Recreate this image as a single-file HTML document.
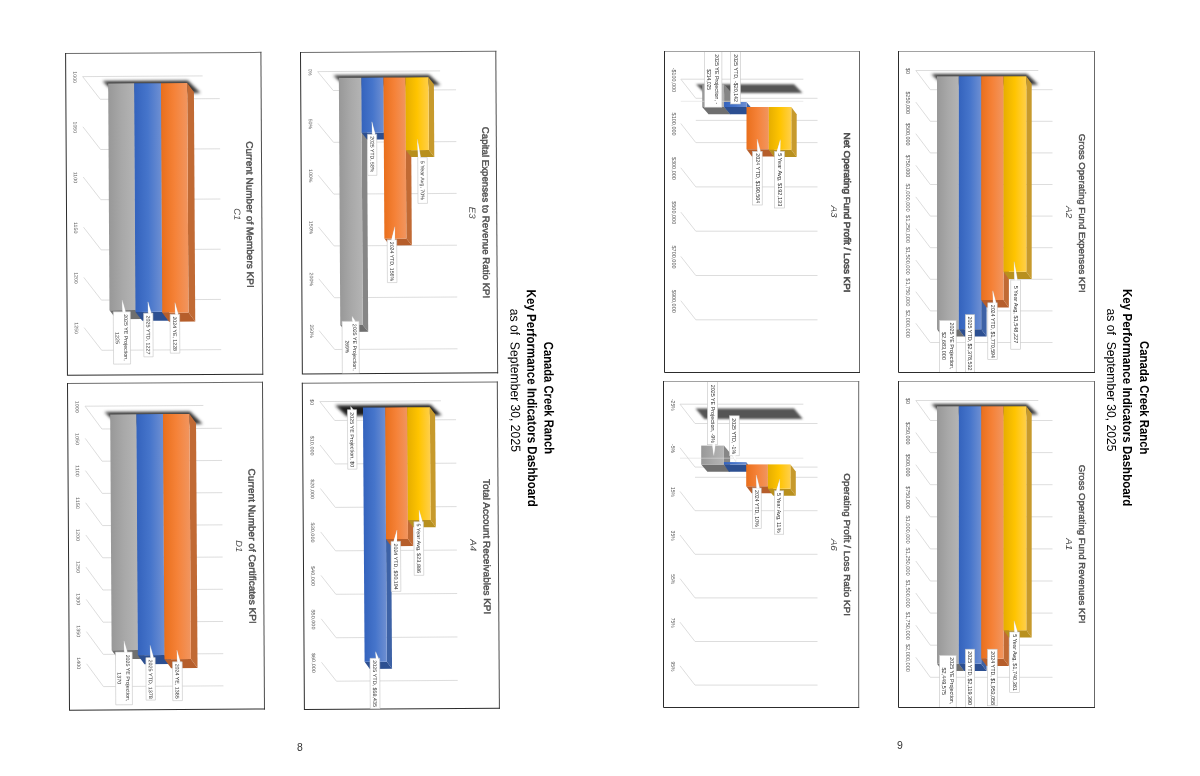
<!DOCTYPE html>
<html><head><meta charset="utf-8"><title>Canada Creek Ranch - Key Performance Indicators Dashboard</title>
<style>
html,body{margin:0;padding:0;background:#fff;}
body{width:1200px;height:776px;overflow:hidden;font-family:'Liberation Sans', sans-serif;}
svg{display:block;font-family:'Liberation Sans', sans-serif;}
</style></head><body>
<svg width="1200" height="776" viewBox="0 0 1200 776">
<defs>
<linearGradient id="gGray" x1="0" x2="1" y1="0" y2="0"><stop offset="0" stop-color="#989898"/><stop offset="0.5" stop-color="#a8a8a8"/><stop offset="1" stop-color="#b4b4b4"/></linearGradient>
<linearGradient id="gBlue" x1="0" x2="1" y1="0" y2="0"><stop offset="0" stop-color="#3463bd"/><stop offset="0.5" stop-color="#4675cb"/><stop offset="1" stop-color="#6e8fd2"/></linearGradient>
<linearGradient id="gOrange" x1="0" x2="1" y1="0" y2="0"><stop offset="0" stop-color="#e96f1c"/><stop offset="0.5" stop-color="#f58238"/><stop offset="1" stop-color="#f1955f"/></linearGradient>
<linearGradient id="gYellow" x1="0" x2="1" y1="0" y2="0"><stop offset="0" stop-color="#e6ae00"/><stop offset="0.5" stop-color="#ffc400"/><stop offset="1" stop-color="#ffcf4a"/></linearGradient>
<filter id="blur" x="-20%" y="-50%" width="140%" height="200%"><feGaussianBlur stdDeviation="1.4"/></filter>
<filter id="blur2" x="-20%" y="-50%" width="140%" height="200%"><feGaussianBlur stdDeviation="0.8"/></filter>
</defs>
<rect width="1200" height="776" fill="#fff"/>
<g transform="rotate(-0.33 65.8 53.5)">
<g>
<path d="M65.1 53.5 H261.4" stroke="#6e6e6e" stroke-width="1" fill="none"/>
<path d="M260.9 53 V375.8" stroke="#4c4c4c" stroke-width="1" fill="none"/>
<path d="M65.6 53 V375.3 H261.4" stroke="#2c2c2c" stroke-width="1" fill="none"/>
<clipPath id="cpC1"><rect x="66.1" y="54" width="194.3" height="320.8"/></clipPath>
<g clip-path="url(#cpC1)">
<path d="M82.5 76.7 L202.5 76.7 M82.5 76.7 L100 99.5 L219.5 99.5 M82.5 126.9 L100 149.7 L219.5 149.7 M82.5 177.1 L100 199.9 L219.5 199.9 M82.5 227.3 L100 250.1 L219.5 250.1 M82.5 277.5 L100 300.3 L219.5 300.3 M82.5 327.7 L100 350.5 L219.5 350.5" fill="none" stroke="#d4d4d4" stroke-width="0.8"/>
<polygon points="102.4,81.3 187.6,81.3 200.3,93.7 115.1,93.7" fill="#363636" filter="url(#blur)"/>
<polygon points="134,83.7 140.7,92.7 140.7,319.5 134,310.5" fill="#868686"/>
<polygon points="108,310.5 134,310.5 140.7,319.5 114.7,319.5" fill="#6f6f6f"/>
<rect x="108" y="83.7" width="26" height="226.8" fill="url(#gGray)"/>
<polygon points="160.8,83.7 167.5,92.7 167.5,321.3 160.8,312.3" fill="#3d62a6"/>
<polygon points="134,312.3 160.8,312.3 167.5,321.3 140.7,321.3" fill="#2c4f91"/>
<rect x="134" y="83.7" width="26.8" height="228.6" fill="url(#gBlue)"/>
<polygon points="187,83.7 193.7,92.7 193.7,322.3 187,313.3" fill="#c16a34"/>
<polygon points="160.8,313.3 187,313.3 193.7,322.3 167.5,322.3" fill="#b65e2b"/>
<rect x="160.8" y="83.7" width="26.2" height="229.6" fill="url(#gOrange)"/>
<polygon points="121.1,312.1 120.8,300.4 124.1,312.1" fill="#fff" stroke="#cfcfcf" stroke-width="0.4"/>
<rect x="111.8" y="312.1" width="17" height="52.3" fill="#fff" stroke="#c4c4c4" stroke-width="0.6"/>
<polygon points="121.3,312.7 120.8,301.2 123.9,312.7" fill="#fff"/>
<text transform="translate(122.6 314.5) rotate(90)" font-size="5.2" font-weight="normal" font-style="normal" fill="#303030" text-anchor="start" textLength="46.5" lengthAdjust="spacingAndGlyphs">2025 YE Projection,</text>
<text transform="translate(114 332.3) rotate(90)" font-size="5.2" font-weight="normal" font-style="normal" fill="#303030" text-anchor="start" textLength="12" lengthAdjust="spacingAndGlyphs">1225</text>
<polygon points="146.8,313.6 146.5,302.3 149.8,313.6" fill="#fff" stroke="#cfcfcf" stroke-width="0.4"/>
<rect x="142.1" y="313.6" width="9.3" height="43.7" fill="#fff" stroke="#c4c4c4" stroke-width="0.6"/>
<polygon points="147,314.2 146.5,303.1 149.6,314.2" fill="#fff"/>
<text transform="translate(144.9 316) rotate(90)" font-size="5.2" font-weight="normal" font-style="normal" fill="#303030" text-anchor="start" textLength="39" lengthAdjust="spacingAndGlyphs">2025 YTD, 1227</text>
<polygon points="173.8,314.8 173.5,303.3 176.8,314.8" fill="#fff" stroke="#cfcfcf" stroke-width="0.4"/>
<rect x="168.6" y="314.8" width="9.5" height="39" fill="#fff" stroke="#c4c4c4" stroke-width="0.6"/>
<polygon points="174,315.4 173.5,304.1 176.6,315.4" fill="#fff"/>
<text transform="translate(171.5 317) rotate(90)" font-size="5.2" font-weight="normal" font-style="normal" fill="#303030" text-anchor="start" textLength="34.6" lengthAdjust="spacingAndGlyphs">2024 YE, 1228</text>
</g>
<text transform="translate(73.1 77.2) rotate(90)" font-size="5" font-weight="normal" font-style="normal" fill="#5c5c5c" text-anchor="middle" textLength="11.6" lengthAdjust="spacingAndGlyphs">1000</text>
<text transform="translate(73.1 127.4) rotate(90)" font-size="5" font-weight="normal" font-style="normal" fill="#5c5c5c" text-anchor="middle" textLength="11.6" lengthAdjust="spacingAndGlyphs">1050</text>
<text transform="translate(73.1 177.6) rotate(90)" font-size="5" font-weight="normal" font-style="normal" fill="#5c5c5c" text-anchor="middle" textLength="11.6" lengthAdjust="spacingAndGlyphs">1100</text>
<text transform="translate(73.1 227.8) rotate(90)" font-size="5" font-weight="normal" font-style="normal" fill="#5c5c5c" text-anchor="middle" textLength="11.6" lengthAdjust="spacingAndGlyphs">1150</text>
<text transform="translate(73.1 278) rotate(90)" font-size="5" font-weight="normal" font-style="normal" fill="#5c5c5c" text-anchor="middle" textLength="11.6" lengthAdjust="spacingAndGlyphs">1200</text>
<text transform="translate(73.1 328.2) rotate(90)" font-size="5" font-weight="normal" font-style="normal" fill="#5c5c5c" text-anchor="middle" textLength="11.6" lengthAdjust="spacingAndGlyphs">1250</text>
<text transform="translate(245.8 215.5) rotate(90)" font-size="9.5" font-weight="normal" font-style="normal" fill="#505050" stroke="#505050" stroke-width="0.45" text-anchor="middle" textLength="146.5" lengthAdjust="spacingAndGlyphs">Current Number of Members KPI</text>
<text transform="translate(233.3 215.3) rotate(90)" font-size="8.9" font-weight="normal" font-style="italic" fill="#4a4a4a" text-anchor="middle" textLength="12" lengthAdjust="spacingAndGlyphs">C1</text>
</g>
</g>
<g transform="rotate(-0.35 68 383.5)">
<g>
<path d="M67 383.5 H263" stroke="#6e6e6e" stroke-width="1" fill="none"/>
<path d="M262.5 383 V710.7" stroke="#4c4c4c" stroke-width="1" fill="none"/>
<path d="M67.5 383 V710.2 H263" stroke="#2c2c2c" stroke-width="1" fill="none"/>
<clipPath id="cpD1"><rect x="68" y="384" width="194" height="325.7"/></clipPath>
<g clip-path="url(#cpD1)">
<path d="M84.9 406.3 L203.2 406.3 M84.9 406.3 L101.6 429.2 L221.6 429.2 M84.9 438.5 L101.6 461.4 L221.6 461.4 M84.9 470.7 L101.6 493.6 L221.6 493.6 M84.9 502.9 L101.6 525.8 L221.6 525.8 M84.9 535.1 L101.6 558 L221.6 558 M84.9 567.3 L101.6 590.2 L221.6 590.2 M84.9 599.5 L101.6 622.4 L221.6 622.4 M84.9 631.7 L101.6 654.6 L221.6 654.6 M84.9 663.9 L101.6 686.8 L221.6 686.8" fill="none" stroke="#d4d4d4" stroke-width="0.8"/>
<polygon points="104.4,412.3 189.8,412.3 202.4,424.7 117,424.7" fill="#363636" filter="url(#blur)"/>
<polygon points="136.2,414.7 142.8,423.7 142.8,659.4 136.2,650.4" fill="#868686"/>
<polygon points="110,650.4 136.2,650.4 142.8,659.4 116.6,659.4" fill="#6f6f6f"/>
<rect x="110" y="414.7" width="26.2" height="235.7" fill="url(#gGray)"/>
<polygon points="162.8,414.7 169.4,423.7 169.4,664.6 162.8,655.6" fill="#3d62a6"/>
<polygon points="136.2,655.6 162.8,655.6 169.4,664.6 142.8,664.6" fill="#2c4f91"/>
<rect x="136.2" y="414.7" width="26.6" height="240.9" fill="url(#gBlue)"/>
<polygon points="189.2,414.7 195.8,423.7 195.8,668.8 189.2,659.8" fill="#c16a34"/>
<polygon points="162.8,659.8 189.2,659.8 195.8,668.8 169.4,668.8" fill="#b65e2b"/>
<rect x="162.8" y="414.7" width="26.4" height="245.1" fill="url(#gOrange)"/>
<polygon points="122.7,652.4 122.4,641.2 125.7,652.4" fill="#fff" stroke="#cfcfcf" stroke-width="0.4"/>
<rect x="113.8" y="652.4" width="16.7" height="52.7" fill="#fff" stroke="#c4c4c4" stroke-width="0.6"/>
<polygon points="122.9,653 122.4,642 125.5,653" fill="#fff"/>
<text transform="translate(124.4 655) rotate(90)" font-size="5.2" font-weight="normal" font-style="normal" fill="#303030" text-anchor="start" textLength="46.7" lengthAdjust="spacingAndGlyphs">2025 YE Projection,</text>
<text transform="translate(115.8 672.6) rotate(90)" font-size="5.2" font-weight="normal" font-style="normal" fill="#303030" text-anchor="start" textLength="12" lengthAdjust="spacingAndGlyphs">1370</text>
<polygon points="148.9,658.1 148.6,645.9 151.9,658.1" fill="#fff" stroke="#cfcfcf" stroke-width="0.4"/>
<rect x="144.2" y="658.1" width="9.3" height="42.5" fill="#fff" stroke="#c4c4c4" stroke-width="0.6"/>
<polygon points="149.1,658.7 148.6,646.7 151.7,658.7" fill="#fff"/>
<text transform="translate(147 660) rotate(90)" font-size="5.2" font-weight="normal" font-style="normal" fill="#303030" text-anchor="start" textLength="39.3" lengthAdjust="spacingAndGlyphs">2025 YTD, 1378</text>
<polygon points="175.6,662.5 175.3,650.8 178.6,662.5" fill="#fff" stroke="#cfcfcf" stroke-width="0.4"/>
<rect x="170.8" y="662.5" width="9.7" height="38.8" fill="#fff" stroke="#c4c4c4" stroke-width="0.6"/>
<polygon points="175.8,663.1 175.3,651.6 178.4,663.1" fill="#fff"/>
<text transform="translate(173.7 664.3) rotate(90)" font-size="5.2" font-weight="normal" font-style="normal" fill="#303030" text-anchor="start" textLength="35" lengthAdjust="spacingAndGlyphs">2024 YE, 1385</text>
</g>
<text transform="translate(75.3 406.9) rotate(90)" font-size="5" font-weight="normal" font-style="normal" fill="#5c5c5c" text-anchor="middle" textLength="12" lengthAdjust="spacingAndGlyphs">1000</text>
<text transform="translate(75.3 438.95) rotate(90)" font-size="5" font-weight="normal" font-style="normal" fill="#5c5c5c" text-anchor="middle" textLength="12" lengthAdjust="spacingAndGlyphs">1050</text>
<text transform="translate(75.3 471) rotate(90)" font-size="5" font-weight="normal" font-style="normal" fill="#5c5c5c" text-anchor="middle" textLength="12" lengthAdjust="spacingAndGlyphs">1100</text>
<text transform="translate(75.3 503.05) rotate(90)" font-size="5" font-weight="normal" font-style="normal" fill="#5c5c5c" text-anchor="middle" textLength="12" lengthAdjust="spacingAndGlyphs">1150</text>
<text transform="translate(75.3 535.1) rotate(90)" font-size="5" font-weight="normal" font-style="normal" fill="#5c5c5c" text-anchor="middle" textLength="12" lengthAdjust="spacingAndGlyphs">1200</text>
<text transform="translate(75.3 567.15) rotate(90)" font-size="5" font-weight="normal" font-style="normal" fill="#5c5c5c" text-anchor="middle" textLength="12" lengthAdjust="spacingAndGlyphs">1250</text>
<text transform="translate(75.3 599.2) rotate(90)" font-size="5" font-weight="normal" font-style="normal" fill="#5c5c5c" text-anchor="middle" textLength="12" lengthAdjust="spacingAndGlyphs">1300</text>
<text transform="translate(75.3 631.25) rotate(90)" font-size="5" font-weight="normal" font-style="normal" fill="#5c5c5c" text-anchor="middle" textLength="12" lengthAdjust="spacingAndGlyphs">1350</text>
<text transform="translate(75.3 663.3) rotate(90)" font-size="5" font-weight="normal" font-style="normal" fill="#5c5c5c" text-anchor="middle" textLength="12" lengthAdjust="spacingAndGlyphs">1400</text>
<text transform="translate(248 547.2) rotate(90)" font-size="9.5" font-weight="normal" font-style="normal" fill="#505050" stroke="#505050" stroke-width="0.45" text-anchor="middle" textLength="155.2" lengthAdjust="spacingAndGlyphs">Current Number of Certificates KPI</text>
<text transform="translate(235 547.3) rotate(90)" font-size="8.9" font-weight="normal" font-style="italic" fill="#4a4a4a" text-anchor="middle" textLength="12" lengthAdjust="spacingAndGlyphs">D1</text>
</g>
</g>
<g transform="rotate(-0.33 300.9 52.4)">
<g>
<path d="M300 52.5 H496.3" stroke="#6e6e6e" stroke-width="1" fill="none"/>
<path d="M495.8 52 V374.5" stroke="#4c4c4c" stroke-width="1" fill="none"/>
<path d="M300.5 52 V374 H496.3" stroke="#2c2c2c" stroke-width="1" fill="none"/>
<clipPath id="cpE3"><rect x="301" y="53" width="194.3" height="320.5"/></clipPath>
<g clip-path="url(#cpE3)">
<path d="M317.5 71.7 L440 71.7 M317.5 71.7 L333 90.7 L455.8 90.7 M317.5 123.5 L333 142.5 L455.8 142.5 M317.5 175.3 L333 194.3 L455.8 194.3 M317.5 227.1 L333 246.1 L455.8 246.1 M317.5 278.9 L333 297.9 L455.8 297.9 M317.5 330.7 L333 349.7 L455.8 349.7" fill="none" stroke="#d4d4d4" stroke-width="0.8"/>
<polygon points="333.1,75.6 428.9,75.6 440.3,85.9 344.5,85.9" fill="#363636" filter="url(#blur)"/>
<polygon points="361.2,78 366.6,84.9 366.6,332.2 361.2,325.3" fill="#868686"/>
<polygon points="338.7,325.3 361.2,325.3 366.6,332.2 344.1,332.2" fill="#6f6f6f"/>
<rect x="338.7" y="78" width="22.5" height="247.3" fill="url(#gGray)"/>
<polygon points="383.3,78 388.7,84.9 388.7,139.9 383.3,133" fill="#3d62a6"/>
<polygon points="361.2,133 383.3,133 388.7,139.9 366.6,139.9" fill="#2c4f91"/>
<rect x="361.2" y="78" width="22.1" height="55" fill="url(#gBlue)"/>
<polygon points="405.3,78 410.7,84.9 410.7,245.9 405.3,239" fill="#c16a34"/>
<polygon points="383.3,239 405.3,239 410.7,245.9 388.7,245.9" fill="#b65e2b"/>
<rect x="383.3" y="78" width="22" height="161" fill="url(#gOrange)"/>
<polygon points="428.3,78 433.7,84.9 433.7,157.7 428.3,150.8" fill="#c79a2c"/>
<polygon points="405.3,150.8 428.3,150.8 433.7,157.7 410.7,157.7" fill="#b8901e"/>
<rect x="405.3" y="78" width="23" height="72.8" fill="url(#gYellow)"/>
<polygon points="371.8,134.6 371.5,122.2 374.8,134.6" fill="#fff" stroke="#cfcfcf" stroke-width="0.4"/>
<rect x="367" y="134.6" width="9.2" height="41.2" fill="#fff" stroke="#c4c4c4" stroke-width="0.6"/>
<polygon points="372,135.2 371.5,123 374.6,135.2" fill="#fff"/>
<text transform="translate(369.9 136.7) rotate(90)" font-size="5.2" font-weight="normal" font-style="normal" fill="#303030" text-anchor="start" textLength="36" lengthAdjust="spacingAndGlyphs">2025 YTD, 58%</text>
<polygon points="417.5,158.3 416.9,140 420.1,158.3" fill="#fff" stroke="#cfcfcf" stroke-width="0.4"/>
<rect x="417.1" y="158.3" width="9.5" height="45.8" fill="#fff" stroke="#c4c4c4" stroke-width="0.6"/>
<polygon points="417.7,158.9 416.9,140.8 419.9,158.9" fill="#fff"/>
<text transform="translate(420 161.5) rotate(90)" font-size="5.2" font-weight="normal" font-style="normal" fill="#303030" text-anchor="start" textLength="39.3" lengthAdjust="spacingAndGlyphs">5 Year Avg, 70%</text>
<polygon points="393.5,240.3 393.8,227.3 390.5,240.3" fill="#fff" stroke="#cfcfcf" stroke-width="0.4"/>
<rect x="386.1" y="240.3" width="9.5" height="42.8" fill="#fff" stroke="#c4c4c4" stroke-width="0.6"/>
<polygon points="393.7,240.9 393.8,228.1 390.3,240.9" fill="#fff"/>
<text transform="translate(389 242.3) rotate(90)" font-size="5.2" font-weight="normal" font-style="normal" fill="#303030" text-anchor="start" textLength="39.3" lengthAdjust="spacingAndGlyphs">2024 YTD, 156%</text>
<polygon points="350.9,321.6 350.6,316.6 353.9,321.6" fill="#fff" stroke="#cfcfcf" stroke-width="0.4"/>
<rect x="340.5" y="321.6" width="17" height="58.4" fill="#fff" stroke="#c4c4c4" stroke-width="0.6"/>
<polygon points="351.1,322.2 350.6,317.4 353.7,322.2" fill="#fff"/>
<text transform="translate(351.3 324) rotate(90)" font-size="5.2" font-weight="normal" font-style="normal" fill="#303030" text-anchor="start" textLength="47" lengthAdjust="spacingAndGlyphs">2025 YE Projection,</text>
<text transform="translate(343.9 340.8) rotate(90)" font-size="5.2" font-weight="normal" font-style="normal" fill="#303030" text-anchor="start" textLength="12.5" lengthAdjust="spacingAndGlyphs">269%</text>
</g>
<text transform="translate(308.4 72.2) rotate(90)" font-size="5" font-weight="normal" font-style="normal" fill="#5c5c5c" text-anchor="middle" textLength="6.5" lengthAdjust="spacingAndGlyphs">0%</text>
<text transform="translate(308.4 124) rotate(90)" font-size="5" font-weight="normal" font-style="normal" fill="#5c5c5c" text-anchor="middle" textLength="10.5" lengthAdjust="spacingAndGlyphs">50%</text>
<text transform="translate(308.4 175.8) rotate(90)" font-size="5" font-weight="normal" font-style="normal" fill="#5c5c5c" text-anchor="middle" textLength="13.5" lengthAdjust="spacingAndGlyphs">100%</text>
<text transform="translate(308.4 227.6) rotate(90)" font-size="5" font-weight="normal" font-style="normal" fill="#5c5c5c" text-anchor="middle" textLength="13.5" lengthAdjust="spacingAndGlyphs">150%</text>
<text transform="translate(308.4 279.4) rotate(90)" font-size="5" font-weight="normal" font-style="normal" fill="#5c5c5c" text-anchor="middle" textLength="13.5" lengthAdjust="spacingAndGlyphs">200%</text>
<text transform="translate(308.4 331.2) rotate(90)" font-size="5" font-weight="normal" font-style="normal" fill="#5c5c5c" text-anchor="middle" textLength="13.5" lengthAdjust="spacingAndGlyphs">250%</text>
<text transform="translate(481.7 213.6) rotate(90)" font-size="9.5" font-weight="normal" font-style="normal" fill="#505050" stroke="#505050" stroke-width="0.45" text-anchor="middle" textLength="171.4" lengthAdjust="spacingAndGlyphs">Capital Expenses to Revenue Ratio KPI</text>
<text transform="translate(468.4 213.8) rotate(90)" font-size="8.9" font-weight="normal" font-style="italic" fill="#4a4a4a" text-anchor="middle" textLength="12" lengthAdjust="spacingAndGlyphs">E3</text>
</g>
</g>
<g transform="rotate(-0.37 302.6 382.6)">
<g>
<path d="M301.8 383.2 H497.8" stroke="#6e6e6e" stroke-width="1" fill="none"/>
<path d="M497.3 382.7 V710" stroke="#4c4c4c" stroke-width="1" fill="none"/>
<path d="M302.3 382.7 V709.5 H497.8" stroke="#2c2c2c" stroke-width="1" fill="none"/>
<clipPath id="cpA4"><rect x="302.8" y="383.7" width="194" height="325.3"/></clipPath>
<g clip-path="url(#cpA4)">
<path d="M319.7 401.7 L440.8 401.7 M319.7 401.7 L334.5 420.7 L455.8 420.7 M319.7 445.15 L334.5 464.15 L455.8 464.15 M319.7 488.6 L334.5 507.6 L455.8 507.6 M319.7 532.05 L334.5 551.05 L455.8 551.05 M319.7 575.5 L334.5 594.5 L455.8 594.5 M319.7 618.95 L334.5 637.95 L455.8 637.95 M319.7 662.4 L334.5 681.4 L455.8 681.4" fill="none" stroke="#d4d4d4" stroke-width="0.8"/>
<polygon points="335,405.6 430.3,405.6 441.5,416.2 346.2,416.2" fill="#1e1e1e" filter="url(#blur)"/>
<polygon points="385,408 390.2,415.2 390.2,669.4 385,662.2" fill="#3d62a6"/>
<polygon points="362.8,662.2 385,662.2 390.2,669.4 368,669.4" fill="#2c4f91"/>
<rect x="362.8" y="408" width="22.2" height="254.2" fill="url(#gBlue)"/>
<polygon points="407,408 412.2,415.2 412.2,546.8 407,539.6" fill="#c16a34"/>
<polygon points="385,539.6 407,539.6 412.2,546.8 390.2,546.8" fill="#b65e2b"/>
<rect x="385" y="408" width="22" height="131.6" fill="url(#gOrange)"/>
<polygon points="429.7,408 434.9,415.2 434.9,528 429.7,520.8" fill="#c79a2c"/>
<polygon points="407,520.8 429.7,520.8 434.9,528 412.2,528" fill="#b8901e"/>
<rect x="407" y="408" width="22.7" height="112.8" fill="url(#gYellow)"/>
<polygon points="350.8,410 350.5,406.8 353.3,410" fill="#fff" stroke="#cfcfcf" stroke-width="0.4"/>
<rect x="347.2" y="410" width="9.2" height="59.5" fill="#fff" stroke="#c4c4c4" stroke-width="0.6"/>
<polygon points="351,410.6 350.5,407.6 353.1,410.6" fill="#fff"/>
<text transform="translate(350 412.5) rotate(90)" font-size="5.2" font-weight="normal" font-style="normal" fill="#303030" text-anchor="start" textLength="55" lengthAdjust="spacingAndGlyphs">2025 YE Projection, $0</text>
<polygon points="418.6,522.5 418.3,510.8 421.6,522.5" fill="#fff" stroke="#cfcfcf" stroke-width="0.4"/>
<rect x="413" y="522.5" width="9.5" height="53.6" fill="#fff" stroke="#c4c4c4" stroke-width="0.6"/>
<polygon points="418.8,523.1 418.3,511.6 421.4,523.1" fill="#fff"/>
<text transform="translate(415.9 524.3) rotate(90)" font-size="5.2" font-weight="normal" font-style="normal" fill="#303030" text-anchor="start" textLength="49.6" lengthAdjust="spacingAndGlyphs">5 Year Avg, $23,886</text>
<polygon points="395.7,542 396,530.65 392.7,542" fill="#fff" stroke="#cfcfcf" stroke-width="0.4"/>
<rect x="390" y="542" width="9.5" height="50" fill="#fff" stroke="#c4c4c4" stroke-width="0.6"/>
<polygon points="395.9,542.6 396,531.45 392.5,542.6" fill="#fff"/>
<text transform="translate(392.9 544) rotate(90)" font-size="5.2" font-weight="normal" font-style="normal" fill="#303030" text-anchor="start" textLength="46.4" lengthAdjust="spacingAndGlyphs">2024 YTD, $30,194</text>
<polygon points="374.2,658.8 373.9,652.2 376.7,658.8" fill="#fff" stroke="#cfcfcf" stroke-width="0.4"/>
<rect x="368.2" y="658.8" width="9.7" height="56.2" fill="#fff" stroke="#c4c4c4" stroke-width="0.6"/>
<polygon points="374.4,659.4 373.9,653 376.5,659.4" fill="#fff"/>
<text transform="translate(371.1 660.8) rotate(90)" font-size="5.2" font-weight="normal" font-style="normal" fill="#303030" text-anchor="start" textLength="46.7" lengthAdjust="spacingAndGlyphs">2025 YTD, $58,435</text>
</g>
<text transform="translate(310.1 402.3) rotate(90)" font-size="5" font-weight="normal" font-style="normal" fill="#5c5c5c" text-anchor="middle" textLength="6" lengthAdjust="spacingAndGlyphs">$0</text>
<text transform="translate(310.1 445.75) rotate(90)" font-size="5" font-weight="normal" font-style="normal" fill="#5c5c5c" text-anchor="middle" textLength="20" lengthAdjust="spacingAndGlyphs">$10,000</text>
<text transform="translate(310.1 489.2) rotate(90)" font-size="5" font-weight="normal" font-style="normal" fill="#5c5c5c" text-anchor="middle" textLength="20" lengthAdjust="spacingAndGlyphs">$20,000</text>
<text transform="translate(310.1 532.65) rotate(90)" font-size="5" font-weight="normal" font-style="normal" fill="#5c5c5c" text-anchor="middle" textLength="20" lengthAdjust="spacingAndGlyphs">$30,000</text>
<text transform="translate(310.1 576.1) rotate(90)" font-size="5" font-weight="normal" font-style="normal" fill="#5c5c5c" text-anchor="middle" textLength="20" lengthAdjust="spacingAndGlyphs">$40,000</text>
<text transform="translate(310.1 619.55) rotate(90)" font-size="5" font-weight="normal" font-style="normal" fill="#5c5c5c" text-anchor="middle" textLength="20" lengthAdjust="spacingAndGlyphs">$50,000</text>
<text transform="translate(310.1 663) rotate(90)" font-size="5" font-weight="normal" font-style="normal" fill="#5c5c5c" text-anchor="middle" textLength="20" lengthAdjust="spacingAndGlyphs">$60,000</text>
<text transform="translate(482.5 547.8) rotate(90)" font-size="9.5" font-weight="normal" font-style="normal" fill="#505050" stroke="#505050" stroke-width="0.45" text-anchor="middle" textLength="135.3" lengthAdjust="spacingAndGlyphs">Total Account Receivables KPI</text>
<text transform="translate(469.2 546.3) rotate(90)" font-size="8.9" font-weight="normal" font-style="italic" fill="#4a4a4a" text-anchor="middle" textLength="12" lengthAdjust="spacingAndGlyphs">A4</text>
</g>
</g>
<g>
<path d="M664 51.5 H860" stroke="#a2a2a2" stroke-width="1" fill="none"/>
<path d="M859.5 51 V373" stroke="#686868" stroke-width="1" fill="none"/>
<path d="M664.5 51 V372.5 H860" stroke="#2c2c2c" stroke-width="1" fill="none"/>
<clipPath id="cpA3"><rect x="665" y="52" width="194" height="320"/></clipPath>
<g clip-path="url(#cpA3)">
<path d="M680.8 79.2 L803.3 79.2 M695.8 120.4 L817.5 120.4 M680.8 79.2 L695.8 98.3 L817.5 98.3 M680.8 123.5 L695.8 142.6 L817.5 142.6 M680.8 167.8 L695.8 186.9 L817.5 186.9 M680.8 212.1 L695.8 231.2 L817.5 231.2 M680.8 256.4 L695.8 275.5 L817.5 275.5 M680.8 300.7 L695.8 319.8 L817.5 319.8" fill="none" stroke="#d4d4d4" stroke-width="0.8"/>
<polygon points="696,84.2 794,84.2 802.5,93 704.5,93" fill="#555555" filter="url(#blur2)"/>
<polygon points="724.1,84.3 730.4,91.6 730.4,114.3 724.1,107" fill="#868686"/>
<polygon points="702.2,107 724.1,107 730.4,114.3 708.5,114.3" fill="#6f6f6f"/>
<rect x="702.2" y="84.3" width="21.9" height="22.7" fill="url(#gGray)"/>
<polygon points="746.5,102 752.5,109.3 752.5,114.3 746.5,107" fill="#3d62a6"/>
<polygon points="724.1,107 746.5,107 752.5,114.3 730.1,114.3" fill="#2c4f91"/>
<rect x="724.1" y="102" width="22.4" height="5" fill="url(#gBlue)"/>
<polygon points="768.8,107 774.2,114.2 774.2,156.4 768.8,149.2" fill="#c16a34"/>
<polygon points="746.5,149.2 768.8,149.2 774.2,156.4 751.9,156.4" fill="#b65e2b"/>
<rect x="746.5" y="107" width="22.3" height="42.2" fill="url(#gOrange)"/>
<polygon points="791.3,107 796.7,114.2 796.7,157 791.3,149.8" fill="#c79a2c"/>
<polygon points="768.8,149.8 791.3,149.8 796.7,157 774.2,157" fill="#b8901e"/>
<rect x="768.8" y="107" width="22.5" height="42.8" fill="url(#gYellow)"/>
<path d="M680.8 101.3 L803.3 101.3" fill="none" stroke="#dcdcdc" stroke-width="0.7" opacity="0.85"/>
<rect x="704.6" y="40" width="17.3" height="67.2" fill="#fff" stroke="#c4c4c4" stroke-width="0.6"/>
<text transform="translate(714.7 54.2) rotate(90)" font-size="5.2" font-weight="normal" font-style="normal" fill="#303030" text-anchor="start" textLength="50" lengthAdjust="spacingAndGlyphs">2025 YE Projection, -</text>
<text transform="translate(706.7 69.2) rotate(90)" font-size="5.2" font-weight="normal" font-style="normal" fill="#303030" text-anchor="start" textLength="20.8" lengthAdjust="spacingAndGlyphs">$214,025</text>
<rect x="730.6" y="40" width="9.8" height="64" fill="#fff" stroke="#c4c4c4" stroke-width="0.6"/>
<text transform="translate(734 54.2) rotate(90)" font-size="5.2" font-weight="normal" font-style="normal" fill="#303030" text-anchor="start" textLength="47.8" lengthAdjust="spacingAndGlyphs">2025 YTD, -$20,142</text>
<polygon points="757.5,151.3 757.2,139.2 760.5,151.3" fill="#fff" stroke="#cfcfcf" stroke-width="0.4"/>
<rect x="752.5" y="151.3" width="9.7" height="53.7" fill="#fff" stroke="#c4c4c4" stroke-width="0.6"/>
<polygon points="757.7,151.9 757.2,140 760.3,151.9" fill="#fff"/>
<text transform="translate(755.5 153.3) rotate(90)" font-size="5.2" font-weight="normal" font-style="normal" fill="#303030" text-anchor="start" textLength="50" lengthAdjust="spacingAndGlyphs">2024 YTD, $190,504</text>
<polygon points="780,151.3 780.3,139.7 777,151.3" fill="#fff" stroke="#cfcfcf" stroke-width="0.4"/>
<rect x="774.5" y="151.3" width="10" height="56.7" fill="#fff" stroke="#c4c4c4" stroke-width="0.6"/>
<polygon points="780.2,151.9 780.3,140.5 776.8,151.9" fill="#fff"/>
<text transform="translate(777.7 153.3) rotate(90)" font-size="5.2" font-weight="normal" font-style="normal" fill="#303030" text-anchor="start" textLength="53" lengthAdjust="spacingAndGlyphs">5 Year Avg, $192,133</text>
</g>
<text transform="translate(671.8 79.8) rotate(90)" font-size="5" font-weight="normal" font-style="normal" fill="#5c5c5c" text-anchor="middle" textLength="24.2" lengthAdjust="spacingAndGlyphs">-$100,000</text>
<text transform="translate(671.8 124.1) rotate(90)" font-size="5" font-weight="normal" font-style="normal" fill="#5c5c5c" text-anchor="middle" textLength="23" lengthAdjust="spacingAndGlyphs">$100,000</text>
<text transform="translate(671.8 168.4) rotate(90)" font-size="5" font-weight="normal" font-style="normal" fill="#5c5c5c" text-anchor="middle" textLength="23" lengthAdjust="spacingAndGlyphs">$300,000</text>
<text transform="translate(671.8 212.7) rotate(90)" font-size="5" font-weight="normal" font-style="normal" fill="#5c5c5c" text-anchor="middle" textLength="23" lengthAdjust="spacingAndGlyphs">$500,000</text>
<text transform="translate(671.8 257) rotate(90)" font-size="5" font-weight="normal" font-style="normal" fill="#5c5c5c" text-anchor="middle" textLength="23" lengthAdjust="spacingAndGlyphs">$700,000</text>
<text transform="translate(671.8 301.3) rotate(90)" font-size="5" font-weight="normal" font-style="normal" fill="#5c5c5c" text-anchor="middle" textLength="23" lengthAdjust="spacingAndGlyphs">$900,000</text>
<text transform="translate(843.5 212.5) rotate(90)" font-size="9.5" font-weight="normal" font-style="normal" fill="#505050" stroke="#505050" stroke-width="0.62" text-anchor="middle" textLength="160" lengthAdjust="spacingAndGlyphs">Net Operating Fund Profit / Loss KPI</text>
<text transform="translate(831.2 211.5) rotate(90)" font-size="9.2" font-weight="normal" font-style="italic" fill="#4a4a4a" text-anchor="middle" textLength="12.2" lengthAdjust="spacingAndGlyphs">A3</text>
</g>
<g>
<path d="M663 381.5 H859.2" stroke="#a2a2a2" stroke-width="1" fill="none"/>
<path d="M858.7 381 V708" stroke="#686868" stroke-width="1" fill="none"/>
<path d="M663.5 381 V707.5 H859.2" stroke="#2c2c2c" stroke-width="1" fill="none"/>
<clipPath id="cpA6"><rect x="664" y="382" width="194.2" height="325"/></clipPath>
<g clip-path="url(#cpA6)">
<path d="M680 404.2 L803.3 404.2 M695 477.3 L817.5 477.3 M680 404.2 L695 423.5 L817.5 423.5 M680 447.8 L695 467.1 L817.5 467.1 M680 491.4 L695 510.7 L817.5 510.7 M680 535 L695 554.3 L817.5 554.3 M680 578.6 L695 597.9 L817.5 597.9 M680 622.2 L695 641.5 L817.5 641.5 M680 665.8 L695 685.1 L817.5 685.1" fill="none" stroke="#d4d4d4" stroke-width="0.8"/>
<polygon points="695.5,408.6 794,408.6 802.8,419 704.5,419" fill="#555555" filter="url(#blur2)"/>
<polygon points="723.9,445.6 730.1,452.9 730.1,471.7 723.9,464.4" fill="#868686"/>
<polygon points="701.2,464.4 723.9,464.4 730.1,471.7 707.4,471.7" fill="#6f6f6f"/>
<rect x="701.2" y="445.6" width="22.7" height="18.8" fill="url(#gGray)"/>
<polygon points="746.2,462.1 751.2,469.4 751.2,471.7 746.2,464.4" fill="#3d62a6"/>
<polygon points="723.9,464.4 746.2,464.4 751.2,471.7 728.9,471.7" fill="#2c4f91"/>
<rect x="723.9" y="462.1" width="22.3" height="2.3" fill="url(#gBlue)"/>
<polygon points="767.9,464.4 773.3,471.4 773.3,493.3 767.9,486.3" fill="#c16a34"/>
<polygon points="746.2,486.3 767.9,486.3 773.3,493.3 751.6,493.3" fill="#b65e2b"/>
<rect x="746.2" y="464.4" width="21.7" height="21.9" fill="url(#gOrange)"/>
<polygon points="790.4,464.4 795.8,471.4 795.8,495.7 790.4,488.7" fill="#c79a2c"/>
<polygon points="767.9,488.7 790.4,488.7 795.8,495.7 773.3,495.7" fill="#b8901e"/>
<rect x="767.9" y="464.4" width="22.5" height="24.3" fill="url(#gYellow)"/>
<path d="M680 458.2 L803.3 458.2" fill="none" stroke="#dcdcdc" stroke-width="0.7" opacity="0.85"/>
<polygon points="712.2,444.7 713.8,455.5 715.4,444.7" fill="#fff" stroke="#cfcfcf" stroke-width="0.4"/>
<rect x="707.5" y="370" width="10" height="74.7" fill="#fff" stroke="#c4c4c4" stroke-width="0.6"/>
<polygon points="712.4,444.1 713.8,454.7 715.2,444.1" fill="#fff"/>
<text transform="translate(710.6 384.7) rotate(90)" font-size="5.2" font-weight="normal" font-style="normal" fill="#303030" text-anchor="start" textLength="58.3" lengthAdjust="spacingAndGlyphs">2025 YE Projection, -9%</text>
<polygon points="735.5,455.8 735.8,461.7 732.5,455.8" fill="#fff" stroke="#cfcfcf" stroke-width="0.4"/>
<rect x="729.5" y="415.8" width="9.7" height="40" fill="#fff" stroke="#c4c4c4" stroke-width="0.6"/>
<polygon points="735.7,455.2 735.8,460.9 732.3,455.2" fill="#fff"/>
<text transform="translate(732.4 418.3) rotate(90)" font-size="5.2" font-weight="normal" font-style="normal" fill="#303030" text-anchor="start" textLength="35.9" lengthAdjust="spacingAndGlyphs">2025 YTD, -1%</text>
<polygon points="756.6,488 756.3,475 759.6,488" fill="#fff" stroke="#cfcfcf" stroke-width="0.4"/>
<rect x="752.5" y="488" width="8.7" height="40.3" fill="#fff" stroke="#c4c4c4" stroke-width="0.6"/>
<polygon points="756.8,488.6 756.3,475.8 759.4,488.6" fill="#fff"/>
<text transform="translate(755.1 490) rotate(90)" font-size="5.2" font-weight="normal" font-style="normal" fill="#303030" text-anchor="start" textLength="36.7" lengthAdjust="spacingAndGlyphs">2024 YTD, 10%</text>
<polygon points="779.4,490.8 779.7,479.2 776.4,490.8" fill="#fff" stroke="#cfcfcf" stroke-width="0.4"/>
<rect x="774.5" y="490.8" width="9.2" height="43.4" fill="#fff" stroke="#c4c4c4" stroke-width="0.6"/>
<polygon points="779.6,491.4 779.7,480 776.2,491.4" fill="#fff"/>
<text transform="translate(777.3 493) rotate(90)" font-size="5.2" font-weight="normal" font-style="normal" fill="#303030" text-anchor="start" textLength="39.5" lengthAdjust="spacingAndGlyphs">5 Year Avg, 11%</text>
</g>
<text transform="translate(671.3 404.8) rotate(90)" font-size="5" font-weight="normal" font-style="normal" fill="#5c5c5c" text-anchor="middle" textLength="11.7" lengthAdjust="spacingAndGlyphs">-25%</text>
<text transform="translate(671.3 448.4) rotate(90)" font-size="5" font-weight="normal" font-style="normal" fill="#5c5c5c" text-anchor="middle" textLength="8.8" lengthAdjust="spacingAndGlyphs">-5%</text>
<text transform="translate(671.3 492) rotate(90)" font-size="5" font-weight="normal" font-style="normal" fill="#5c5c5c" text-anchor="middle" textLength="10" lengthAdjust="spacingAndGlyphs">15%</text>
<text transform="translate(671.3 535.6) rotate(90)" font-size="5" font-weight="normal" font-style="normal" fill="#5c5c5c" text-anchor="middle" textLength="10" lengthAdjust="spacingAndGlyphs">35%</text>
<text transform="translate(671.3 579.2) rotate(90)" font-size="5" font-weight="normal" font-style="normal" fill="#5c5c5c" text-anchor="middle" textLength="10" lengthAdjust="spacingAndGlyphs">55%</text>
<text transform="translate(671.3 622.8) rotate(90)" font-size="5" font-weight="normal" font-style="normal" fill="#5c5c5c" text-anchor="middle" textLength="10" lengthAdjust="spacingAndGlyphs">75%</text>
<text transform="translate(671.3 666.4) rotate(90)" font-size="5" font-weight="normal" font-style="normal" fill="#5c5c5c" text-anchor="middle" textLength="10" lengthAdjust="spacingAndGlyphs">95%</text>
<text transform="translate(843.6 544.6) rotate(90)" font-size="9.5" font-weight="normal" font-style="normal" fill="#505050" stroke="#505050" stroke-width="0.45" text-anchor="middle" textLength="142.6" lengthAdjust="spacingAndGlyphs">Operating Profit / Loss Ratio KPI</text>
<text transform="translate(830.6 544.8) rotate(90)" font-size="9" font-weight="normal" font-style="italic" fill="#4a4a4a" text-anchor="middle" textLength="12.2" lengthAdjust="spacingAndGlyphs">A6</text>
</g>
<g>
<path d="M898 51.5 H1095" stroke="#a2a2a2" stroke-width="1" fill="none"/>
<path d="M1094.5 51 V373" stroke="#686868" stroke-width="1" fill="none"/>
<path d="M898.5 51 V372.5 H1095" stroke="#2c2c2c" stroke-width="1" fill="none"/>
<clipPath id="cpA2"><rect x="899" y="52" width="195" height="320"/></clipPath>
<g clip-path="url(#cpA2)">
<path d="M915.8 70.5 L1038.3 70.5 M915.8 70.5 L930.3 89.7 L1052.5 89.7 M915.8 102.1 L930.3 121.3 L1052.5 121.3 M915.8 133.7 L930.3 152.9 L1052.5 152.9 M915.8 165.3 L930.3 184.5 L1052.5 184.5 M915.8 196.9 L930.3 216.1 L1052.5 216.1 M915.8 228.5 L930.3 247.7 L1052.5 247.7 M915.8 260.1 L930.3 279.3 L1052.5 279.3 M915.8 291.7 L930.3 310.9 L1052.5 310.9 M915.8 323.3 L930.3 342.5 L1052.5 342.5" fill="none" stroke="#d4d4d4" stroke-width="0.8"/>
<polygon points="931.4,73.9 1026.9,73.9 1038.3,84.7 942.8,84.7" fill="#363636" filter="url(#blur)"/>
<polygon points="958.8,76.3 964.2,83.7 964.2,336.6 958.8,329.2" fill="#868686"/>
<polygon points="937,329.2 958.8,329.2 964.2,336.6 942.4,336.6" fill="#6f6f6f"/>
<rect x="937" y="76.3" width="21.8" height="252.9" fill="url(#gGray)"/>
<polygon points="981.2,76.3 986.6,83.7 986.6,336.6 981.2,329.2" fill="#3d62a6"/>
<polygon points="958.8,329.2 981.2,329.2 986.6,336.6 964.2,336.6" fill="#2c4f91"/>
<rect x="958.8" y="76.3" width="22.4" height="252.9" fill="url(#gBlue)"/>
<polygon points="1003.5,76.3 1008.9,83.7 1008.9,307.4 1003.5,300" fill="#c16a34"/>
<polygon points="981.2,300 1003.5,300 1008.9,307.4 986.6,307.4" fill="#b65e2b"/>
<rect x="981.2" y="76.3" width="22.3" height="223.7" fill="url(#gOrange)"/>
<polygon points="1026.3,76.3 1031.7,83.7 1031.7,279.1 1026.3,271.7" fill="#c79a2c"/>
<polygon points="1003.5,271.7 1026.3,271.7 1031.7,279.1 1008.9,279.1" fill="#b8901e"/>
<rect x="1003.5" y="76.3" width="22.8" height="195.4" fill="url(#gYellow)"/>
<rect x="939.5" y="320.3" width="16.7" height="59.7" fill="#fff" stroke="#c4c4c4" stroke-width="0.6"/>
<text transform="translate(950 322.5) rotate(90)" font-size="5.2" font-weight="normal" font-style="normal" fill="#303030" text-anchor="start" textLength="47" lengthAdjust="spacingAndGlyphs">2025 YE Projection,</text>
<text transform="translate(942 332) rotate(90)" font-size="5.2" font-weight="normal" font-style="normal" fill="#303030" text-anchor="start" textLength="28" lengthAdjust="spacingAndGlyphs">$2,683,000</text>
<rect x="965.3" y="314.7" width="9.4" height="65.3" fill="#fff" stroke="#c4c4c4" stroke-width="0.6"/>
<text transform="translate(968.2 316.5) rotate(90)" font-size="5.2" font-weight="normal" font-style="normal" fill="#303030" text-anchor="start" textLength="54" lengthAdjust="spacingAndGlyphs">2025 YTD, $2,378,532</text>
<polygon points="993.1,302.8 992.8,290.8 996.1,302.8" fill="#fff" stroke="#cfcfcf" stroke-width="0.4"/>
<rect x="987.8" y="302.8" width="9.4" height="56.9" fill="#fff" stroke="#c4c4c4" stroke-width="0.6"/>
<polygon points="993.3,303.4 992.8,291.6 995.9,303.4" fill="#fff"/>
<text transform="translate(990.7 304.7) rotate(90)" font-size="5.2" font-weight="normal" font-style="normal" fill="#303030" text-anchor="start" textLength="53.3" lengthAdjust="spacingAndGlyphs">2024 YTD, $1,770,594</text>
<polygon points="1014.5,280 1014.2,261.7 1017.5,280" fill="#fff" stroke="#cfcfcf" stroke-width="0.4"/>
<rect x="1010.8" y="280" width="9.5" height="69.2" fill="#fff" stroke="#c4c4c4" stroke-width="0.6"/>
<polygon points="1014.7,280.6 1014.2,262.5 1017.3,280.6" fill="#fff"/>
<text transform="translate(1013.8 285.8) rotate(90)" font-size="5.2" font-weight="normal" font-style="normal" fill="#303030" text-anchor="start" textLength="57.5" lengthAdjust="spacingAndGlyphs">5 Year Avg, $1,548,227</text>
</g>
<text transform="translate(906.3 71.1) rotate(90)" font-size="5" font-weight="normal" font-style="normal" fill="#5c5c5c" text-anchor="middle" textLength="6" lengthAdjust="spacingAndGlyphs">$0</text>
<text transform="translate(906.3 102.7) rotate(90)" font-size="5" font-weight="normal" font-style="normal" fill="#5c5c5c" text-anchor="middle" textLength="22.5" lengthAdjust="spacingAndGlyphs">$250,000</text>
<text transform="translate(906.3 134.3) rotate(90)" font-size="5" font-weight="normal" font-style="normal" fill="#5c5c5c" text-anchor="middle" textLength="22.5" lengthAdjust="spacingAndGlyphs">$500,000</text>
<text transform="translate(906.3 165.9) rotate(90)" font-size="5" font-weight="normal" font-style="normal" fill="#5c5c5c" text-anchor="middle" textLength="22.5" lengthAdjust="spacingAndGlyphs">$750,000</text>
<text transform="translate(906.3 197.5) rotate(90)" font-size="5" font-weight="normal" font-style="normal" fill="#5c5c5c" text-anchor="middle" textLength="28" lengthAdjust="spacingAndGlyphs">$1,000,000</text>
<text transform="translate(906.3 229.1) rotate(90)" font-size="5" font-weight="normal" font-style="normal" fill="#5c5c5c" text-anchor="middle" textLength="28" lengthAdjust="spacingAndGlyphs">$1,250,000</text>
<text transform="translate(906.3 260.7) rotate(90)" font-size="5" font-weight="normal" font-style="normal" fill="#5c5c5c" text-anchor="middle" textLength="28" lengthAdjust="spacingAndGlyphs">$1,500,000</text>
<text transform="translate(906.3 292.3) rotate(90)" font-size="5" font-weight="normal" font-style="normal" fill="#5c5c5c" text-anchor="middle" textLength="28" lengthAdjust="spacingAndGlyphs">$1,750,000</text>
<text transform="translate(906.3 323.9) rotate(90)" font-size="5" font-weight="normal" font-style="normal" fill="#5c5c5c" text-anchor="middle" textLength="28" lengthAdjust="spacingAndGlyphs">$2,000,000</text>
<text transform="translate(1078.9 213.2) rotate(90)" font-size="9.8" font-weight="normal" font-style="normal" fill="#505050" stroke="#505050" stroke-width="0.42" text-anchor="middle" textLength="158.8" lengthAdjust="spacingAndGlyphs">Gross Operating Fund Expenses KPI</text>
<text transform="translate(1065.5 212.1) rotate(90)" font-size="9" font-weight="normal" font-style="italic" fill="#4a4a4a" text-anchor="middle" textLength="12.2" lengthAdjust="spacingAndGlyphs">A2</text>
</g>
<g>
<path d="M898 381.5 H1095" stroke="#a2a2a2" stroke-width="1" fill="none"/>
<path d="M1094.5 381 V708" stroke="#686868" stroke-width="1" fill="none"/>
<path d="M898.5 381 V707.5 H1095" stroke="#2c2c2c" stroke-width="1" fill="none"/>
<clipPath id="cpA1"><rect x="899" y="382" width="195" height="325"/></clipPath>
<g clip-path="url(#cpA1)">
<path d="M915.8 400.5 L1038.3 400.5 M915.8 400.5 L930.3 420.5 L1052.5 420.5 M915.8 432.6 L930.3 452.6 L1052.5 452.6 M915.8 464.7 L930.3 484.7 L1052.5 484.7 M915.8 496.8 L930.3 516.8 L1052.5 516.8 M915.8 528.9 L930.3 548.9 L1052.5 548.9 M915.8 561 L930.3 581 L1052.5 581 M915.8 593.1 L930.3 613.1 L1052.5 613.1 M915.8 625.2 L930.3 645.2 L1052.5 645.2 M915.8 657.3 L930.3 677.3 L1052.5 677.3" fill="none" stroke="#d4d4d4" stroke-width="0.8"/>
<polygon points="931.4,403.9 1026.9,403.9 1038.3,414.5 942.8,414.5" fill="#363636" filter="url(#blur)"/>
<polygon points="958.8,406.3 964.2,413.5 964.2,670.9 958.8,663.7" fill="#868686"/>
<polygon points="937,663.7 958.8,663.7 964.2,670.9 942.4,670.9" fill="#6f6f6f"/>
<rect x="937" y="406.3" width="21.8" height="257.4" fill="url(#gGray)"/>
<polygon points="981.2,406.3 986.6,413.5 986.6,670.9 981.2,663.7" fill="#3d62a6"/>
<polygon points="958.8,663.7 981.2,663.7 986.6,670.9 964.2,670.9" fill="#2c4f91"/>
<rect x="958.8" y="406.3" width="22.4" height="257.4" fill="url(#gBlue)"/>
<polygon points="1003.5,406.3 1008.9,413.5 1008.9,665.9 1003.5,658.7" fill="#c16a34"/>
<polygon points="981.2,658.7 1003.5,658.7 1008.9,665.9 986.6,665.9" fill="#b65e2b"/>
<rect x="981.2" y="406.3" width="22.3" height="252.4" fill="url(#gOrange)"/>
<polygon points="1026.3,406.3 1031.7,413.5 1031.7,637.5 1026.3,630.3" fill="#c79a2c"/>
<polygon points="1003.5,630.3 1026.3,630.3 1031.7,637.5 1008.9,637.5" fill="#b8901e"/>
<rect x="1003.5" y="406.3" width="22.8" height="224" fill="url(#gYellow)"/>
<rect x="939.5" y="655.3" width="16.7" height="59.7" fill="#fff" stroke="#c4c4c4" stroke-width="0.6"/>
<text transform="translate(950 657.3) rotate(90)" font-size="5.2" font-weight="normal" font-style="normal" fill="#303030" text-anchor="start" textLength="47" lengthAdjust="spacingAndGlyphs">2025 YE Projection,</text>
<text transform="translate(942 667.5) rotate(90)" font-size="5.2" font-weight="normal" font-style="normal" fill="#303030" text-anchor="start" textLength="27.5" lengthAdjust="spacingAndGlyphs">$2,449,575</text>
<rect x="965.3" y="649.2" width="9.4" height="65.8" fill="#fff" stroke="#c4c4c4" stroke-width="0.6"/>
<text transform="translate(968.2 651.3) rotate(90)" font-size="5.2" font-weight="normal" font-style="normal" fill="#303030" text-anchor="start" textLength="53.7" lengthAdjust="spacingAndGlyphs">2025 YTD, $2,119,390</text>
<rect x="987.5" y="649.2" width="9.7" height="56.6" fill="#fff" stroke="#c4c4c4" stroke-width="0.6"/>
<text transform="translate(990.5 651.3) rotate(90)" font-size="5.2" font-weight="normal" font-style="normal" fill="#303030" text-anchor="start" textLength="53.7" lengthAdjust="spacingAndGlyphs">2024 YTD, $1,953,058</text>
<polygon points="1014.5,632 1014.2,620.8 1017.5,632" fill="#fff" stroke="#cfcfcf" stroke-width="0.4"/>
<rect x="1009.7" y="632" width="9.8" height="60.5" fill="#fff" stroke="#c4c4c4" stroke-width="0.6"/>
<polygon points="1014.7,632.6 1014.2,621.6 1017.3,632.6" fill="#fff"/>
<text transform="translate(1012.8 634.2) rotate(90)" font-size="5.2" font-weight="normal" font-style="normal" fill="#303030" text-anchor="start" textLength="56.6" lengthAdjust="spacingAndGlyphs">5 Year Avg, $1,740,361</text>
</g>
<text transform="translate(906.3 401.1) rotate(90)" font-size="5" font-weight="normal" font-style="normal" fill="#5c5c5c" text-anchor="middle" textLength="6" lengthAdjust="spacingAndGlyphs">$0</text>
<text transform="translate(906.3 433.2) rotate(90)" font-size="5" font-weight="normal" font-style="normal" fill="#5c5c5c" text-anchor="middle" textLength="22.5" lengthAdjust="spacingAndGlyphs">$250,000</text>
<text transform="translate(906.3 465.3) rotate(90)" font-size="5" font-weight="normal" font-style="normal" fill="#5c5c5c" text-anchor="middle" textLength="22.5" lengthAdjust="spacingAndGlyphs">$500,000</text>
<text transform="translate(906.3 497.4) rotate(90)" font-size="5" font-weight="normal" font-style="normal" fill="#5c5c5c" text-anchor="middle" textLength="22.5" lengthAdjust="spacingAndGlyphs">$750,000</text>
<text transform="translate(906.3 529.5) rotate(90)" font-size="5" font-weight="normal" font-style="normal" fill="#5c5c5c" text-anchor="middle" textLength="28" lengthAdjust="spacingAndGlyphs">$1,000,000</text>
<text transform="translate(906.3 561.6) rotate(90)" font-size="5" font-weight="normal" font-style="normal" fill="#5c5c5c" text-anchor="middle" textLength="28" lengthAdjust="spacingAndGlyphs">$1,250,000</text>
<text transform="translate(906.3 593.7) rotate(90)" font-size="5" font-weight="normal" font-style="normal" fill="#5c5c5c" text-anchor="middle" textLength="28" lengthAdjust="spacingAndGlyphs">$1,500,000</text>
<text transform="translate(906.3 625.8) rotate(90)" font-size="5" font-weight="normal" font-style="normal" fill="#5c5c5c" text-anchor="middle" textLength="28" lengthAdjust="spacingAndGlyphs">$1,750,000</text>
<text transform="translate(906.3 657.9) rotate(90)" font-size="5" font-weight="normal" font-style="normal" fill="#5c5c5c" text-anchor="middle" textLength="28" lengthAdjust="spacingAndGlyphs">$2,000,000</text>
<text transform="translate(1078.9 544.1) rotate(90)" font-size="9.8" font-weight="normal" font-style="normal" fill="#505050" stroke="#505050" stroke-width="0.42" text-anchor="middle" textLength="158.8" lengthAdjust="spacingAndGlyphs">Gross Operating Fund Revenues KPI</text>
<text transform="translate(1065.5 544.2) rotate(90)" font-size="9" font-weight="normal" font-style="italic" fill="#4a4a4a" text-anchor="middle" textLength="12" lengthAdjust="spacingAndGlyphs">A1</text>
</g>
<g transform="rotate(-0.35 527 398)">
<text transform="translate(544.35 398) rotate(90)" font-size="13.2" font-weight="bold" fill="#000" text-anchor="middle" textLength="112.2" lengthAdjust="spacingAndGlyphs">Canada Creek Ranch</text>
<text transform="translate(527.5 398.15) rotate(90)" font-size="13.2" font-weight="bold" fill="#000" text-anchor="middle" textLength="217.1" lengthAdjust="spacingAndGlyphs">Key Performance Indicators Dashboard</text>
<text transform="translate(510.85 380.2) rotate(90)" font-size="13.2" font-weight="normal" fill="#000" text-anchor="middle" textLength="143.2" lengthAdjust="spacingAndGlyphs">as of&#160; September 30, 2025</text>
</g>
<text transform="translate(1139.8 397.75) rotate(90)" font-size="13.2" font-weight="bold" fill="#000" text-anchor="middle" textLength="113.3" lengthAdjust="spacingAndGlyphs">Canada Creek Ranch</text>
<text transform="translate(1123.3 397.65) rotate(90)" font-size="13.2" font-weight="bold" fill="#000" text-anchor="middle" textLength="217.3" lengthAdjust="spacingAndGlyphs">Key Performance Indicators Dashboard</text>
<text transform="translate(1107.1 380.1) rotate(90)" font-size="13.2" font-weight="normal" fill="#000" text-anchor="middle" textLength="143" lengthAdjust="spacingAndGlyphs">as of&#160; September 30, 2025</text>
<text x="300" y="750.6" font-size="10.4" fill="#333" text-anchor="middle">8</text>
<text x="899.9" y="749.1" font-size="10.5" fill="#333" text-anchor="middle">9</text>
</svg>
</body></html>
